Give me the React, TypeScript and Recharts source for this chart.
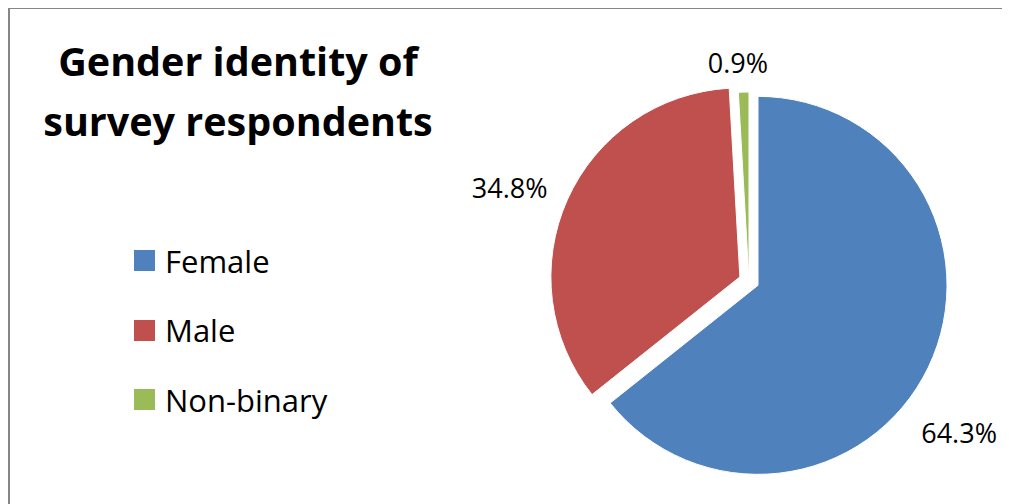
import React from 'react';
import { PieChart, Pie, Cell, Legend, Sector } from 'recharts';

const categories = ['Female', 'Male', 'Non-binary'];
const shares = [64.3, 34.8, 0.9];

const COLORS = ['#4F81BD', '#C0504D', '#9BBB59'];
// how far each slice is pulled out of the pie (px)
const EXPLODE = [10, 10, 0];
// label placement: angle shift from the slice middle and distance past the rim
const LABEL_POS = [
  { angle: -10.4, gap: 60 },
  { angle: 2.9, gap: 58 },
  { angle: 1.3, gap: 30 },
];

const data = categories.map((name, i) => ({ name, value: shares[i] }));

const RAD = Math.PI / 180;
const FONT = '"Open Sans", "Noto Sans", sans-serif';

const indexOf = (p: any) => categories.indexOf(p.payload?.name ?? p.name);

const shift = (p: any, d: number) => ({
  x: d * Math.cos(-p.midAngle * RAD),
  y: d * Math.sin(-p.midAngle * RAD),
});

const ExplodedSector = (props: any) => {
  const i = indexOf(props);
  const off = shift(props, EXPLODE[i] || 0);
  return (
    <Sector
      cx={props.cx + off.x}
      cy={props.cy + off.y}
      innerRadius={props.innerRadius}
      outerRadius={props.outerRadius}
      startAngle={props.startAngle}
      endAngle={props.endAngle}
      fill={props.fill}
      stroke="#fff"
      strokeWidth={1}
    />
  );
};

const renderLabel = (props: any) => {
  const i = indexOf(props);
  const off = shift(props, EXPLODE[i] || 0);
  const a = props.midAngle + LABEL_POS[i].angle;
  const r = props.outerRadius + LABEL_POS[i].gap;
  const x = props.cx + off.x + r * Math.cos(-a * RAD);
  const y = props.cy + off.y + r * Math.sin(-a * RAD);
  return (
    <text
      x={x}
      y={y}
      textAnchor="middle"
      dominantBaseline="central"
      fill="#000"
      fontSize={27}
      fontFamily={FONT}
    >
      {`${Number(props.value).toFixed(1)}%`}
    </text>
  );
};

const renderLegend = () => (
  <div>
    {categories.map((c, i) => (
      <div key={c} style={{ display: 'flex', alignItems: 'center', height: 69.5 }}>
        <span style={{ width: 21, height: 21, background: COLORS[i], marginRight: 10 }} />
        <span style={{ fontSize: 31, fontFamily: FONT, color: '#000' }}>{c}</span>
      </div>
    ))}
  </div>
);

export default function App() {
  return (
    <div
      style={{
        position: 'relative',
        marginTop: -1,
        width: 1150,
        height: 520,
        borderTop: '2px solid #868686',
        borderLeft: '2px solid #868686',
        fontFamily: FONT,
        background: '#fff',
      }}
    >
      <style>{'html, body { overflow: hidden; }'}</style>
      <div
        style={{
          position: 'absolute',
          left: 28,
          top: 22,
          width: 400,
          textAlign: 'center',
          fontSize: 39.5,
          fontWeight: 700,
          lineHeight: '60px',
          color: '#000',
        }}
      >
        Gender identity of
        <br />
        survey respondents
      </div>
      <PieChart width={1100} height={510} margin={{ top: 0, right: 0, bottom: 0, left: 0 }}>
        <Pie
          data={data}
          dataKey="value"
          nameKey="name"
          cx={739}
          cy={272}
          outerRadius={189}
          startAngle={90}
          endAngle={-270}
          shape={ExplodedSector}
          label={renderLabel}
          labelLine={false}
          isAnimationActive={false}
        >
          {data.map((d, i) => (
            <Cell key={d.name} fill={COLORS[i]} />
          ))}
        </Pie>
        <Legend
          layout="vertical"
          align="center"
          verticalAlign="middle"
          content={renderLegend}
          wrapperStyle={{ left: 124, top: 217, width: 260 }}
        />
      </PieChart>
    </div>
  );
}
